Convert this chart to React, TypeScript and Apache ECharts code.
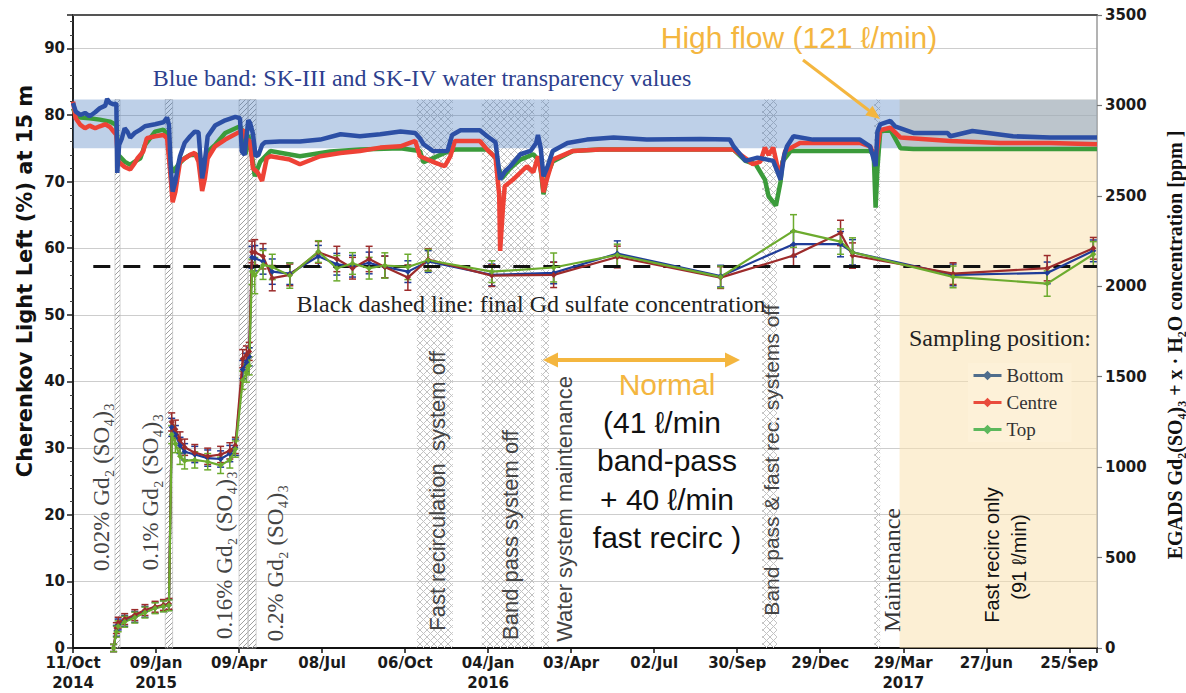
import React, { useEffect, useRef } from "react";
import * as echarts from "echarts";

// x values are days counted from 11 Oct 2014
const START_UTC = Date.UTC(2014, 9, 11);
const X_MAX = 1110;
const X_TICK_DAYS = 90;
const LEFT_MAX = 95;
const LEFT_TICK = 10;
const RIGHT_MAX = 3500;
const RIGHT_TICK = 500;
const MONTHS = ["Jan", "Feb", "Mar", "Apr", "May", "Jun", "Jul", "Aug", "Sep", "Oct", "Nov", "Dec"];

const FINAL_GD_PPM = 2110;
const DASH_START_DAY = 22;
const BLUE_BAND = [75, 82.3];
const HATCH_TOP = 82.3;
const GD_STEP_BANDS = [[45.5, 51], [100, 108], [180, 189.5], [190, 198.5]];
const OFF_BANDS = [[372.6, 411.7], [443, 500], [507.5, 516], [747, 763], [868.6, 875]];
const FAST_ONLY_BAND = [896, 1110];

const SERIES_NAMES = ["Bottom", "Centre", "Top"];

// Water transparency (left axis, %): [day, value]
const transBottom = [
  [0, 81.8], [3, 80.5], [8, 80.0], [13, 80.3], [18, 79.8], [24, 80.4], [29, 81.0], [35, 81.4], [37, 82.4], [40, 81.8],
  [44, 81.6], [47, 81.7], [48, 71.3], [50, 75.5], [53, 76.5], [56, 78.0], [59, 77.5], [62, 76.6], [67, 77.3], [73, 77.8],
  [78, 78.3], [89, 78.6], [98, 78.9], [102, 79.6], [104, 78.5], [106, 72.0], [108, 68.5], [111, 70.0], [114, 72.5], [116, 73.8],
  [121, 75.8], [127, 76.8], [132, 77.5], [136, 77.4], [138, 74.0], [140, 70.5], [142, 72.0], [146, 76.8], [154, 78.4], [165, 79.2],
  [176, 79.7], [181, 79.5], [183, 74.5], [186, 74.0], [190, 79.2], [192, 78.8], [195, 77.2], [198, 73.8], [201, 74.0], [205, 75.5],
  [208, 75.9], [224, 76.0], [246, 76.0], [268, 76.3], [290, 77.1], [311, 76.8], [333, 77.1], [355, 77.5], [371, 77.3], [376, 76.5],
  [380, 75.6], [390, 74.6], [406, 74.6], [411, 77.0], [420, 77.7], [441, 77.7], [449, 76.8], [458, 75.9], [463, 70.3], [468, 71.5],
  [474, 72.3], [485, 74.1], [496, 74.6], [502, 75.8], [504, 77.0], [507, 75.0], [510, 70.8], [514, 72.1], [520, 74.6], [536, 75.8],
  [557, 76.3], [586, 76.6], [622, 76.3], [680, 76.4], [712, 76.3], [716, 75.3], [729, 73.1], [742, 73.6], [759, 73.1], [765, 71.0],
  [767, 70.3], [771, 74.0], [774, 75.3], [781, 76.8], [802, 76.3], [853, 76.3], [864, 75.3], [870, 72.3], [872, 77.5], [875, 78.6],
  [886, 79.1], [891, 78.3], [911, 77.3], [948, 77.3], [951, 76.8], [975, 77.6], [1019, 76.8], [1059, 76.6], [1110, 76.6],
];
const transCentre = [
  [0, 82.0], [3, 79.5], [8, 78.5], [13, 78.0], [18, 78.4], [24, 78.0], [29, 78.3], [35, 78.6], [40, 78.2], [44, 77.5],
  [47, 77.0], [49, 73.0], [56, 72.2], [62, 71.8], [67, 72.8], [70, 73.5], [76, 74.5], [80, 76.5], [89, 76.8], [98, 77.0],
  [102, 76.5], [105, 72.0], [108, 66.9], [111, 68.5], [116, 73.0], [127, 74.0], [132, 74.3], [136, 73.0], [140, 68.6], [143, 70.5],
  [146, 73.5], [154, 75.3], [165, 76.3], [181, 77.5], [184, 77.8], [187, 76.5], [192, 76.0], [195, 72.0], [200, 71.4], [205, 70.1],
  [210, 73.5], [214, 73.8], [235, 73.3], [246, 72.6], [268, 73.8], [290, 74.3], [311, 74.6], [333, 75.1], [355, 75.3], [371, 76.1],
  [376, 73.8], [393, 72.8], [403, 72.3], [409, 73.8], [414, 76.1], [441, 76.1], [449, 74.8], [458, 73.6], [462, 68.0], [463, 59.6],
  [466, 66.0], [468, 69.3], [477, 70.3], [492, 72.3], [499, 71.4], [504, 73.8], [508, 71.0], [510, 68.4], [514, 70.5], [520, 73.3],
  [542, 74.6], [571, 74.8], [680, 74.8], [716, 74.8], [729, 73.5], [737, 72.6], [745, 73.0], [750, 75.1], [754, 74.0], [759, 75.1],
  [764, 72.0], [767, 71.4], [772, 74.6], [788, 75.8], [853, 75.8], [864, 75.3], [870, 73.5], [873, 76.0], [875, 77.7], [886, 78.1],
  [897, 76.6], [951, 76.1], [1005, 75.8], [1059, 75.8], [1110, 75.6],
];
const transTop = [
  [0, 81.0], [3, 80.0], [8, 79.6], [18, 79.5], [29, 79.3], [40, 79.0], [47, 78.5], [49, 74.0], [56, 73.0], [62, 72.5],
  [67, 73.0], [73, 73.5], [78, 75.5], [89, 77.5], [98, 77.8], [103, 77.0], [105, 73.0], [108, 71.4], [114, 72.5], [121, 73.5],
  [127, 74.0], [136, 74.0], [140, 71.5], [146, 74.5], [154, 75.5], [165, 77.3], [181, 78.3], [184, 77.5], [187, 74.1], [190, 77.0],
  [195, 73.0], [197, 70.8], [203, 73.0], [214, 74.6], [246, 73.8], [279, 74.5], [311, 74.8], [355, 75.0], [376, 74.6], [380, 72.9],
  [390, 73.5], [406, 74.5], [414, 74.8], [449, 74.8], [458, 73.6], [465, 70.5], [474, 72.0], [485, 73.3], [499, 74.1], [506, 73.0],
  [510, 68.1], [514, 71.0], [520, 73.0], [542, 74.6], [571, 74.8], [716, 74.8], [729, 73.1], [740, 72.6], [750, 70.3], [754, 67.8],
  [762, 66.4], [767, 70.0], [769, 73.0], [778, 74.6], [864, 74.6], [868, 74.0], [870, 66.1], [872, 72.0], [875, 77.5], [886, 77.8],
  [897, 75.0], [911, 74.9], [1110, 74.9],
];

// EGADS Gd2(SO4)3 concentration (right axis, ppm): [day, value, error]
const concBottom = [
  [44, 0, 20], [47, 95, 30], [49, 130, 30], [56, 150, 30], [67, 172, 30], [78, 200, 30], [89, 222, 30], [98, 232, 30], [104, 238, 30],
  [107, 1220, 50], [111, 1180, 50], [116, 1120, 45], [121, 1085, 45], [132, 1070, 45], [146, 1050, 45], [160, 1045, 45], [170, 1075, 45],
  [176, 1110, 45], [184, 1540, 50], [188, 1580, 50], [191, 1610, 50], [194, 2160, 60],
  [197, 2155, 70], [206, 2137, 70], [216, 2081, 70], [235, 2070, 60], [266, 2166, 60], [286, 2122, 60], [303, 2111, 60], [321, 2129, 60],
  [338, 2107, 60], [363, 2081, 60], [385, 2137, 60], [454, 2063, 60], [521, 2074, 60], [590, 2181, 70], [702, 2056, 60], [781, 2233, 70],
  [832, 2233, 70], [845, 2188, 70], [954, 2063, 60], [1056, 2074, 60], [1106, 2196, 60],
];
const concCentre = [
  [44, 0, 20], [47, 110, 30], [49, 140, 30], [56, 160, 30], [67, 182, 30], [78, 210, 30], [89, 228, 30], [98, 238, 30], [104, 244, 30],
  [107, 1250, 50], [111, 1210, 50], [116, 1150, 45], [121, 1110, 45], [132, 1080, 45], [146, 1060, 45], [160, 1070, 45], [170, 1090, 45],
  [176, 1120, 45], [184, 1600, 50], [188, 1620, 50], [191, 1640, 50], [194, 2190, 60],
  [197, 2188, 70], [206, 2166, 70], [216, 2045, 70], [235, 2063, 60], [266, 2188, 60], [286, 2151, 70], [303, 2100, 60], [321, 2151, 70],
  [338, 2107, 60], [363, 2048, 70], [385, 2148, 60], [454, 2059, 60], [521, 2063, 70], [590, 2162, 60], [702, 2048, 60], [781, 2170, 60],
  [832, 2295, 70], [845, 2170, 70], [954, 2070, 60], [1056, 2100, 70], [1106, 2210, 60],
];
const concTop = [
  [44, 0, 20], [47, 90, 30], [49, 120, 30], [56, 145, 30], [67, 168, 30], [78, 196, 30], [89, 220, 30], [98, 230, 30], [104, 236, 30],
  [107, 1180, 50], [111, 1130, 50], [116, 1060, 45], [121, 1035, 45], [132, 1040, 45], [146, 1030, 45], [160, 1010, 45], [170, 1040, 45],
  [176, 1100, 45], [184, 1480, 50], [188, 1520, 50], [191, 1560, 50], [194, 2080, 70],
  [197, 2059, 100], [206, 2118, 80], [216, 2107, 70], [235, 2059, 70], [266, 2192, 60], [286, 2100, 70], [303, 2126, 60], [321, 2100, 60],
  [338, 2115, 70], [363, 2107, 70], [385, 2144, 60], [454, 2081, 60], [521, 2104, 80], [590, 2173, 60], [702, 2052, 60], [781, 2306, 90],
  [832, 2247, 70], [845, 2188, 80], [954, 2052, 60], [1056, 2015, 70], [1106, 2177, 70],
];

const TRANS_COLORS = ["#2c4fa5", "#ee4236", "#3b9b3b"];
const CONC_COLORS = ["#1f3c98", "#9c2b2b", "#6cab2e"];
const LEGEND_COLORS = ["#4f6d8c", "#e94b3c", "#5cb85c"];
const ORANGE = "#f4b63f";

const SERIF = '"Liberation Serif", "DejaVu Serif", serif';
const SANS = '"Liberation Sans", "DejaVu Sans", sans-serif';
const BOLD_SANS = '"DejaVu Sans", sans-serif';

function fmtDate(v: number) {
  const r = Math.round(v);
  if (r % X_TICK_DAYS !== 0) return "";
  const d = new Date(START_UTC + r * 86400000);
  const p = new Date(START_UTC + (r - X_TICK_DAYS) * 86400000);
  const day = String(d.getUTCDate()).padStart(2, "0");
  const s = day + "/" + MONTHS[d.getUTCMonth()];
  if (r === 0 || p.getUTCFullYear() !== d.getUTCFullYear()) return s + "\n" + d.getUTCFullYear();
  return s;
}

function makeHatch(cross: boolean) {
  const size = cross ? 7 : 5;
  const c = document.createElement("canvas");
  c.width = size;
  c.height = size;
  const ctx = c.getContext("2d")!;
  ctx.strokeStyle = cross ? "#c2c2c2" : "#a0a0a0";
  ctx.lineWidth = 1;
  ctx.beginPath();
  ctx.moveTo(-1, size + 1);
  ctx.lineTo(size + 1, -1);
  if (cross) {
    ctx.moveTo(-1, -1);
    ctx.lineTo(size + 1, size + 1);
  }
  ctx.stroke();
  return c;
}

function vText(text: string, x: number, y: number, font: string, fill: string) {
  return {
    type: "text",
    x,
    y,
    rotation: Math.PI / 2,
    style: { text, font, fill, textAlign: "center", textVerticalAlign: "middle" },
    z: 100,
  };
}
function hText(text: string, x: number, y: number, font: string, fill: string) {
  return {
    type: "text",
    x,
    y,
    style: { text, font, fill, textAlign: "center", textVerticalAlign: "middle" },
    z: 100,
  };
}

export default function App() {
  const ref = useRef<HTMLDivElement>(null);
  useEffect(() => {
    if (!ref.current) return;
    const chart = echarts.init(ref.current, null, { renderer: "svg" });
    const diag = makeHatch(false);
    const cross = makeHatch(true);

    const transSets = [transBottom, transCentre, transTop];
    const concSets = [concBottom, concCentre, concTop];

    const series: any[] = [];
    // hatched bands and fast-recirc-only region
    series.push({
      type: "line",
      data: [],
      z: 1,
      silent: true,
      markArea: {
        silent: true,
        data: [
          [{ xAxis: FAST_ONLY_BAND[0], yAxis: 0, itemStyle: { color: "rgba(250,226,176,0.55)" } }, { xAxis: FAST_ONLY_BAND[1], yAxis: HATCH_TOP }],
          ...GD_STEP_BANDS.map((b) => [
            { xAxis: b[0], yAxis: 0, itemStyle: { color: { image: diag, repeat: "repeat" }, borderColor: "#b5b5b5", borderWidth: 0.6 } },
            { xAxis: b[1], yAxis: HATCH_TOP },
          ]),
          ...OFF_BANDS.map((b) => [
            { xAxis: b[0], yAxis: 0, itemStyle: { color: { image: cross, repeat: "repeat" } } },
            { xAxis: b[1], yAxis: HATCH_TOP },
          ]),
        ],
      },
    });
    // transparency curves (top, centre, bottom order)
    [2, 1, 0].forEach((i) => {
      series.push({
        name: SERIES_NAMES[i] + " transparency",
        type: "line",
        xAxisIndex: 0,
        yAxisIndex: 0,
        data: transSets[i],
        showSymbol: false,
        silent: true,
        lineStyle: { color: TRANS_COLORS[i], width: 4.5 },
        itemStyle: { color: TRANS_COLORS[i] },
        z: 2,
      });
    });
    // blue band overlay
    series.push({
      type: "line",
      data: [],
      z: 3,
      silent: true,
      markArea: {
        silent: true,
        itemStyle: { color: "rgba(70,120,190,0.35)" },
        data: [[{ xAxis: 0, yAxis: BLUE_BAND[0] }, { xAxis: X_MAX, yAxis: BLUE_BAND[1] }]],
      },
    });
    // concentration: error bars then lines
    [0, 1, 2].forEach((i) => {
      const col = CONC_COLORS[i];
      series.push({
        type: "custom",
        xAxisIndex: 0,
        yAxisIndex: 1,
        z: 4,
        silent: true,
        data: concSets[i],
        encode: { x: 0, y: 1 },
        renderItem: (params: any, api: any) => {
          const x = api.value(0);
          const y = api.value(1);
          const e = api.value(2);
          const lo = api.coord([x, y - e]);
          const hi = api.coord([x, y + e]);
          const w = 3.5;
          const st = { stroke: col, lineWidth: 1.5 };
          return {
            type: "group",
            children: [
              { type: "line", shape: { x1: lo[0], y1: lo[1], x2: hi[0], y2: hi[1] }, style: st },
              { type: "line", shape: { x1: lo[0] - w, y1: lo[1], x2: lo[0] + w, y2: lo[1] }, style: st },
              { type: "line", shape: { x1: hi[0] - w, y1: hi[1], x2: hi[0] + w, y2: hi[1] }, style: st },
            ],
          };
        },
      });
    });
    [0, 1, 2].forEach((i) => {
      series.push({
        name: SERIES_NAMES[i],
        type: "line",
        xAxisIndex: 0,
        yAxisIndex: 1,
        data: concSets[i].map((d) => [d[0], d[1]]),
        symbol: "diamond",
        symbolSize: 6,
        silent: true,
        lineStyle: { color: CONC_COLORS[i], width: 2.2 },
        itemStyle: { color: CONC_COLORS[i] },
        z: 5,
      });
    });
    // final Gd sulfate concentration dashed line
    series.push({
      type: "line",
      xAxisIndex: 0,
      yAxisIndex: 1,
      data: [],
      z: 6,
      silent: true,
      markLine: {
        silent: true,
        symbol: "none",
        label: { show: false },
        lineStyle: { color: "#111", width: 3, type: [17, 13] },
        data: [[{ coord: [DASH_START_DAY, FINAL_GD_PPM] }, { coord: [X_MAX, FINAL_GD_PPM] }]],
      },
    });

    const arrowHead = (pts: number[][]) => ({
      type: "polygon",
      shape: { points: pts },
      style: { fill: ORANGE },
      z: 100,
    });

    const graphic: any[] = [
      vText("Cherenkov Light Left (%) at 15 m", 25, 281, "bold 21px " + BOLD_SANS, "#111"),
      vText("EGADS Gd\u2082(SO\u2084)\u2083 + x \u00b7 H\u2082O concentration [ppm ]", 1175, 345, "bold 20px " + SERIF, "#111"),
      hText("Blue band: SK-III and SK-IV water transparency values", 422, 78, "24px " + SERIF, "#2d3f8e"),
      hText("High flow (121 \u2113/min)", 799, 37, "30px " + SANS, ORANGE),
      hText("Black dashed line: final Gd sulfate concentration", 531, 304, "24px " + SERIF, "#222"),
      hText("Sampling position:", 1000, 338, "24px " + SERIF, "#222"),
      hText("Normal", 667, 384, "30px " + SANS, ORANGE),
      hText("(41 \u2113/min", 662, 422, "30px " + SANS, "#111"),
      hText("band-pass", 667, 460, "30px " + SANS, "#111"),
      hText("+ 40 \u2113/min", 667, 499, "30px " + SANS, "#111"),
      hText("fast recirc )", 667, 537, "30px " + SANS, "#111"),
      vText("0.02% Gd\u2082 (SO\u2084)\u2083", 101, 487, "23px " + SERIF, "#444"),
      vText("0.1% Gd\u2082 (SO\u2084)\u2083", 150, 492, "23px " + SERIF, "#444"),
      vText("0.16% Gd\u2082 (SO\u2084)\u2083", 224, 555, "23px " + SERIF, "#444"),
      vText("0.2% Gd\u2082 (SO\u2084)\u2083", 275, 563, "23px " + SERIF, "#444"),
      vText("Fast recirculation  system off", 437, 491, "22px " + SANS, "#444"),
      vText("Band pass system off", 510, 535, "22px " + SANS, "#444"),
      vText("Water system maintenance", 564, 509, "22px " + SANS, "#444"),
      vText("Band pass & fast rec. systems off", 771, 460, "21px " + SANS, "#444"),
      vText("Maintenance", 892, 570, "24px " + SERIF, "#333"),
      vText("Fast recirc only", 992, 555, "20px " + SANS, "#111"),
      vText("(91 \u2113/min)", 1019, 557, "20px " + SANS, "#111"),
      {
        type: "line",
        shape: { x1: 803, y1: 60, x2: 869, y2: 110.5 },
        style: { stroke: ORANGE, lineWidth: 3 },
        z: 100,
      },
      arrowHead([[880, 119], [865.2, 115.3], [872.5, 105.7]]),
      {
        type: "line",
        shape: { x1: 556, y1: 360, x2: 727, y2: 360 },
        style: { stroke: ORANGE, lineWidth: 4 },
        z: 100,
      },
      arrowHead([[543, 360], [558, 352.5], [558, 367.5]]),
      arrowHead([[740, 360], [725, 352.5], [725, 367.5]]),
    ];

    const tickLabel = { fontFamily: BOLD_SANS, fontWeight: "bold", fontSize: 15, color: "#1a1a1a" };

    chart.setOption({
      animation: false,
      backgroundColor: "#ffffff",
      grid: { left: 73, right: 89, top: 15, bottom: 42 },
      legend: {
        orient: "vertical",
        left: 968,
        top: 363,
        itemWidth: 28,
        itemHeight: 12,
        itemGap: 8,
        backgroundColor: "#fdf1d8",
        padding: [3, 8, 3, 4],
        textStyle: { fontFamily: SERIF, fontSize: 19, color: "#333" },
        data: SERIES_NAMES.map((n, i) => ({
          name: n,
          itemStyle: { color: LEGEND_COLORS[i] },
          lineStyle: { color: LEGEND_COLORS[i], width: 3 },
        })),
      },
      xAxis: [
        {
          type: "value",
          min: 0,
          max: X_MAX,
          interval: X_TICK_DAYS,
          position: "bottom",
          axisLine: { show: true, onZero: false, lineStyle: { color: "#111", width: 2 } },
          axisTick: { show: true, length: 5, lineStyle: { color: "#111", width: 1.5 } },
          splitLine: { show: false },
          axisLabel: { ...tickLabel, formatter: fmtDate, lineHeight: 20, margin: 5 },
        },
        {
          type: "value",
          min: 0,
          max: X_MAX,
          position: "top",
          axisLine: { show: true, onZero: false, lineStyle: { color: "#555", width: 2 } },
          axisTick: { show: false },
          axisLabel: { show: false },
          splitLine: { show: false },
        },
      ],
      yAxis: [
        {
          type: "value",
          min: 0,
          max: LEFT_MAX,
          interval: LEFT_TICK,
          position: "left",
          axisLine: { show: true, onZero: false, lineStyle: { color: "#222", width: 2 } },
          axisTick: { show: true, length: 6, lineStyle: { color: "#222", width: 1.5 } },
          minorTick: { show: true, splitNumber: 5, length: 3, lineStyle: { color: "#444" } },
          splitLine: { show: true, lineStyle: { color: "#cdcdcd", width: 1.2 } },
          axisLabel: { ...tickLabel, margin: 8, formatter: (v: number) => (Math.round(v) % LEFT_TICK === 0 ? String(Math.round(v)) : "") },
        },
        {
          type: "value",
          min: 0,
          max: RIGHT_MAX,
          interval: RIGHT_TICK,
          position: "right",
          axisLine: { show: true, onZero: false, lineStyle: { color: "#9a9a9a", width: 1.5 } },
          axisTick: { show: true, length: 5, lineStyle: { color: "#777", width: 1.2 } },
          splitLine: { show: false },
          axisLabel: { ...tickLabel, margin: 8, formatter: (v: number) => String(Math.round(v)) },
        },
      ],
      series,
      graphic,
    });
    return () => chart.dispose();
  }, []);
  return <div ref={ref} style={{ position: "fixed", left: 0, top: 0, width: 1186, height: 693 }} />;
}
